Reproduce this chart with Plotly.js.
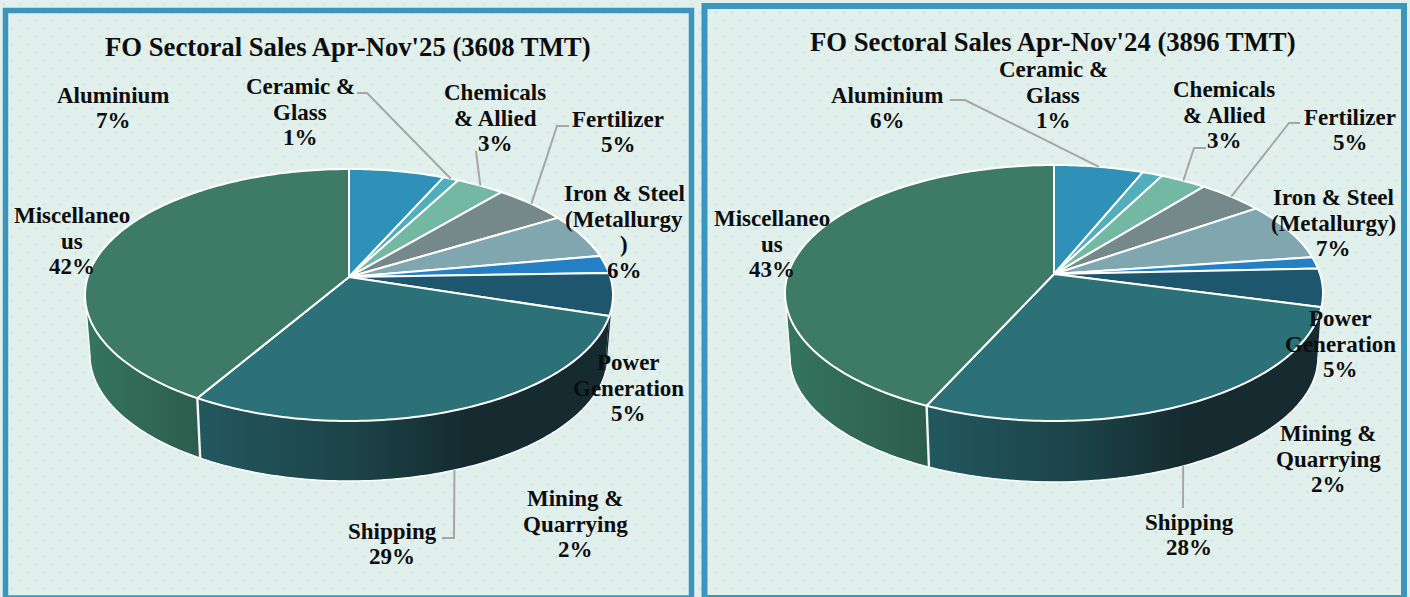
<!DOCTYPE html>
<html>
<head>
<meta charset="utf-8">
<script src="https://cdn.plot.ly/plotly-3.0.1.min.js"></script>
<style>
html,body{margin:0;padding:0;width:1410px;height:597px;overflow:hidden;background-color:#E2F0EC;
background-image:url("data:image/svg+xml,%3Csvg xmlns='http://www.w3.org/2000/svg' width='16' height='16'%3E%3Cg fill='%23CFE6F1'%3E%3Ccircle cx='3' cy='4' r='1'/%3E%3Ccircle cx='5' cy='4' r='1'/%3E%3Ccircle cx='4' cy='5.6' r='0.9'/%3E%3Ccircle cx='11' cy='12' r='1'/%3E%3Ccircle cx='13' cy='12' r='1'/%3E%3Ccircle cx='12' cy='13.6' r='0.9'/%3E%3C/g%3E%3C/svg%3E");}
#chart{width:1410px;height:597px}
</style>
</head>
<body>
<div id="chart"></div>
<script>
// ---------- data ----------
const sectors = ["Aluminium","Ceramic & Glass","Chemicals & Allied","Fertilizer","Iron & Steel (Metallurgy)","Mining & Quarrying","Power Generation","Shipping","Miscellaneous"];
const share25 = [6.7,1.1,3.4,5.2,5.8,2.3,5.4,28.6,41.5];
const share24 = [6.2,1.4,3.2,4.6,7.4,1.5,4.8,27.7,43.2];
const title25 = "FO Sectoral Sales Apr-Nov'25 (3608 TMT)";
const title24 = "FO Sectoral Sales Apr-Nov'24 (3896 TMT)";
const names25 = ["Aluminium","Ceramic &<br>Glass","Chemicals<br>& Allied","Fertilizer","Iron & Steel<br>(Metallurgy<br>)","Mining &<br>Quarrying","Power<br>Generation","Shipping","Miscellaneo<br>us"];
const names24 = ["Aluminium","Ceramic &<br>Glass","Chemicals<br>& Allied","Fertilizer","Iron & Steel<br>(Metallurgy)","Mining &<br>Quarrying","Power<br>Generation","Shipping","Miscellaneo<br>us"];
const pct25 = [7,1,3,5,6,2,5,29,42];
const pct24 = [6,1,3,5,7,2,5,28,43];

// ---------- styles ----------
const topColors = ["#2F90B8","#52AEBB","#72B8A2","#75888A","#80A6B0","#2480C4","#1E566D","#2C7078","#3D7B66"];
const wallScale = {
  7:[[0,"#23585F"],[0.4,"#1B4247"],[0.65,"#152B30"],[1,"#152B30"]],
  8:[[0,"#357560"],[1,"#2C5D4C"]]
};
const wallSolid = "#152B30";
const FONT = "'Liberation Serif','DejaVu Serif',serif";
const LABEL_SIZE = 23, TITLE_SIZE = 26.7, LINE_PITCH = 25.7;

const panels = [
 {values:share25,names:names25,pct:pct25,title:title25,titleX:348,titleY:47,
  cx:349,cy:295,rx:264,ry:126,k:-0.143,bcy:355,brx:259,bry:126,
  labelX:[113,300,495,618,624,575,628,392,72],
  labelY:[108,112,118,132,232,524,388,544,241],
  leaders:{1:[[357,93],[367,93]],2:[[476,151]],3:[[569,126],[557,126]],7:[[442,538],[454,538]]}},
 {values:share24,names:names24,pct:pct24,title:title24,titleX:1053,titleY:42,
  cx:1054,cy:293,rx:269,ry:128,k:-0.148,bcy:357,brx:264,bry:125,
  labelX:[887,1053,1224,1350,1333,1328,1340,1189,772],
  labelY:[108,95,115,130,223,459,344,535,244],
  leaders:{0:[[950,100],[965,100]],2:[[1206,148],[1194,148]],3:[[1300,123],[1289,123]],7:[[1183,508]]}}
];

// perspective projection of a fraction round the pie on to the ellipse
function proj(f,k){
  const t=2*Math.PI*f,u=Math.sin(t),v=-Math.cos(t),d=1+v*k;
  return [u*Math.sqrt(1-k*k)/d,(v+k)/d];
}
function rimTop(p,f){const q=proj(f,p.k);return [p.cx+p.rx*q[0],p.cy+p.ry*q[1]];}
function rimBot(p,f){const q=proj(f,p.k);return [p.cx+p.brx*q[0],p.bcy+p.bry*q[1]];}
function arc(fn,p,a,b){const n=Math.max(2,Math.ceil(Math.abs(b-a)*360)),o=[];
  for(let i=0;i<=n;i++)o.push(fn(p,a+(b-a)*i/n));return o;}

const traces=[], annotations=[];
function addLine(pts,color,width){
  traces.push({type:"scatter",mode:"lines",x:pts.map(q=>q[0]),y:pts.map(q=>q[1]),
    line:{color:color,width:width,simplify:false},hoverinfo:"skip",showlegend:false});
}
panels.forEach(p=>{
  const total=p.values.reduce((a,b)=>a+b,0);
  const cum=[0];p.values.forEach(v=>cum.push(cum[cum.length-1]+v/total));
  const fStart=Math.acos(p.k)/(2*Math.PI), fEnd=1-fStart;  // tangent points of the front wall
  // walls
  p.values.forEach((v,i)=>{
    const a=Math.max(cum[i],fStart),b=Math.min(cum[i+1],fEnd);
    if(b<=a)return;
    const top=arc(rimTop,p,a,b),bot=arc(rimBot,p,a,b).reverse(),poly=top.concat(bot);poly.push(top[0]);
    const xs=poly.map(q=>q[0]);
    const t={type:"scatter",mode:"lines",x:xs,y:poly.map(q=>q[1]),fill:"toself",line:{width:0,color:"rgba(0,0,0,0)"},hoverinfo:"skip",showlegend:false};
    if(wallScale[i]) t.fillgradient={type:"horizontal",colorscale:wallScale[i],start:Math.min(...xs),stop:Math.max(...xs)};
    else t.fillcolor=wallSolid;
    traces.push(t);
  });
  // wall outline and the wall seam
  addLine(arc(rimBot,p,fStart,fEnd),"#FFFFFF",1.4);
  addLine([rimTop(p,fStart),rimBot(p,fStart)],"#E8EEEE",1.2);
  addLine([rimTop(p,fEnd),rimBot(p,fEnd)],"#FFFFFF",1.2);
  addLine([rimTop(p,cum[8]),rimBot(p,cum[8])],"#F2F5F4",2.4);
  // top face
  const apex=[p.cx,p.cy+p.ry*p.k];
  p.values.forEach((v,i)=>{
    const poly=[apex].concat(arc(rimTop,p,cum[i],cum[i+1]));poly.push(apex);
    traces.push({type:"scatter",mode:"lines",x:poly.map(q=>q[0]),y:poly.map(q=>q[1]),fill:"toself",
      fillcolor:topColors[i],line:{color:"#FFFFFF",width:2,simplify:false},
      name:sectors[i],text:sectors[i]+": "+v+"%",hoverinfo:"text",showlegend:false});
  });
  // leaders end on the middle of their slice
  Object.keys(p.leaders).forEach(key=>{
    const i=+key,mid=(cum[i]+cum[i+1])/2;
    const end=i===7?rimBot(p,mid):rimTop(p,mid);
    addLine(p.leaders[key].concat([end]),"#A6A6A6",2);
  });
  // labels, one annotation per line so the line pitch can follow the reference
  p.values.forEach((v,i)=>{
    const lines=p.names[i].split("<br>").concat([p.pct[i]+"%"]);
    lines.forEach((s,j)=>{
      annotations.push({xref:"x",yref:"y",x:p.labelX[i],y:p.labelY[i]+(j-(lines.length-1)/2)*LINE_PITCH,
        xanchor:"center",yanchor:"middle",showarrow:false,
        text:"<b>"+s+"</b>",font:{family:FONT,size:LABEL_SIZE,color:"#0D0D0D"}});
    });
  });
  annotations.push({xref:"x",yref:"y",x:p.titleX,y:p.titleY,xanchor:"center",yanchor:"middle",showarrow:false,
    text:"<b>"+p.title+"</b>",font:{family:FONT,size:TITLE_SIZE,color:"#0D0D0D"}});
});

const frame={type:"rect",xref:"x",yref:"y",layer:"below",fillcolor:"rgba(0,0,0,0)"};
const layout={
  width:1410,height:597,margin:{l:0,r:0,t:0,b:0},
  paper_bgcolor:"rgba(0,0,0,0)",plot_bgcolor:"rgba(0,0,0,0)",
  showlegend:false,hovermode:"closest",
  xaxis:{range:[0,1410],visible:false,fixedrange:true},
  yaxis:{range:[597,0],visible:false,fixedrange:true},
  annotations:annotations,
  shapes:[
    Object.assign({},frame,{x0:5.5,x1:691.5,y0:10.5,y1:598,line:{color:"#3A96BE",width:5.5}}),
    Object.assign({},frame,{x0:704.5,x1:1404,y0:6,y1:598,line:{color:"#3A96BE",width:6}})
  ]
};
Plotly.newPlot("chart",traces,layout,{displayModeBar:false});
</script>
</body>
</html>
